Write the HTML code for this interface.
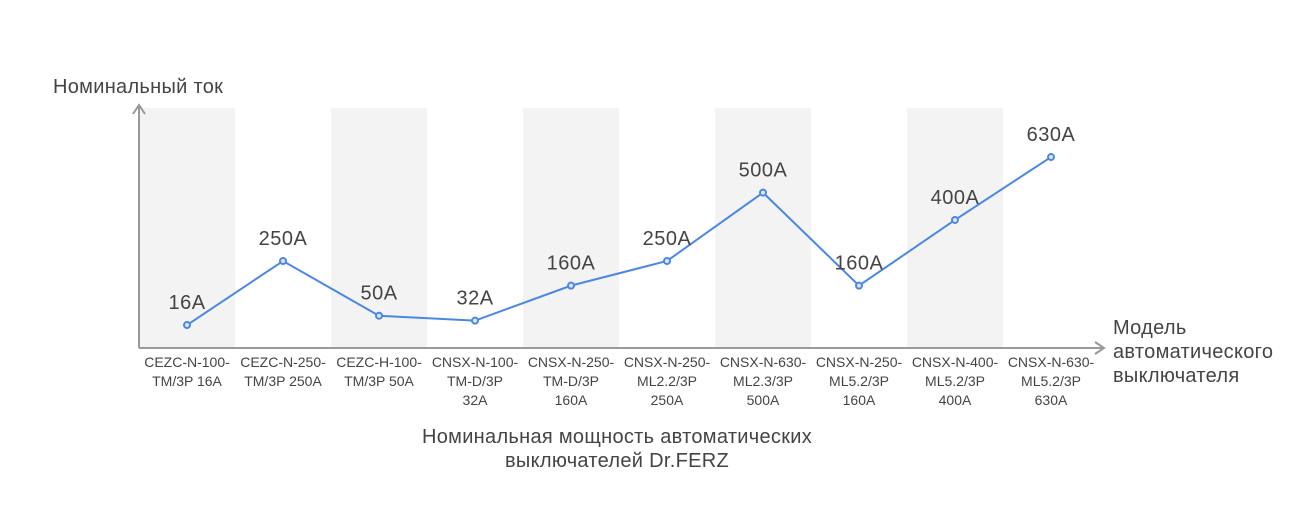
<!DOCTYPE html>
<html><head><meta charset="utf-8"><style>
body{margin:0;background:#fff;font-family:"Liberation Sans",sans-serif}
svg text{font-family:"Liberation Sans",sans-serif;fill:#444}
</style></head><body>
<svg width="1304" height="518" viewBox="0 0 1304 518">
<g id="bands"></g>
<g id="axes">
<line x1="139" y1="105" x2="139" y2="348" stroke="#999" stroke-width="2"/>
<polyline points="133,114 139,105 145,114" fill="none" stroke="#999" stroke-width="2"/>
<line x1="139" y1="348" x2="1104" y2="348" stroke="#999" stroke-width="2"/>
<polyline points="1095,342 1104,348 1095,354" fill="none" stroke="#999" stroke-width="2"/>
</g>
<text x="53" y="93" font-size="20" letter-spacing="0.3">Номинальный ток</text>
<text font-size="20" letter-spacing="0.3"><tspan x="1113" y="334">Модель</tspan><tspan x="1113" y="358">автоматического</tspan><tspan x="1113" y="382">выключателя</tspan></text>
<text font-size="20" letter-spacing="0.3" text-anchor="middle"><tspan x="617" y="443">Номинальная мощность автоматических</tspan><tspan x="617" y="467">выключателей Dr.FERZ</tspan></text>
<g id="ticks"></g>
<polyline id="line" fill="none" stroke="#4a86e8" stroke-width="2"/>
<g id="marks"></g>
</svg>
<script>
const categories=[["CEZC-N-100-","TM/3P 16A"],["CEZC-N-250-","TM/3P 250A"],["CEZC-H-100-","TM/3P 50A"],["CNSX-N-100-","TM-D/3P","32A"],["CNSX-N-250-","TM-D/3P","160A"],["CNSX-N-250-","ML2.2/3P","250A"],["CNSX-N-630-","ML2.3/3P","500A"],["CNSX-N-250-","ML5.2/3P","160A"],["CNSX-N-400-","ML5.2/3P","400A"],["CNSX-N-630-","ML5.2/3P","630A"]];
const values=[16,250,50,32,160,250,500,160,400,630];
const valueLabels=["16A","250A","50A","32A","160A","250A","500A","160A","400A","630A"];
const NS="http://www.w3.org/2000/svg";
function xPos(i){return 139+96*i+48;}
function yPos(v){return 329.4-v*0.2736;}
function mk(t,a,p){const e=document.createElementNS(NS,t);for(const k in a)e.setAttribute(k,a[k]);p.appendChild(e);return e;}
const bands=document.getElementById('bands'),ticks=document.getElementById('ticks'),marks=document.getElementById('marks');
let pts=[];
categories.forEach((c,i)=>{
 if(i%2===0){const r=mk('rect',{x:xPos(i)-48,y:108,width:96,height:240,fill:'#f3f3f3'},bands);
 
 }
 const t=mk('text',{'font-size':14,'text-anchor':'middle'},ticks);
 
 
 c.forEach((s,j)=>{const ts=mk('tspan',{x:xPos(i),y:367+j*19},t);ts.textContent=s;});
 pts.push(xPos(i)+','+yPos(values[i]));
});
document.getElementById('line').setAttribute('points',pts.join(' '));
values.forEach((v,i)=>{
 const c=mk('circle',{cx:xPos(i),cy:yPos(v),r:3,fill:'#dce8fb',stroke:'#4a86e8','stroke-width':2},marks);
 
 
 const t=mk('text',{x:xPos(i),y:yPos(v)-16,'font-size':20,'letter-spacing':'0.5','text-anchor':'middle'},marks);
 
 
 t.textContent=valueLabels[i];
});
</script>
</body></html>
